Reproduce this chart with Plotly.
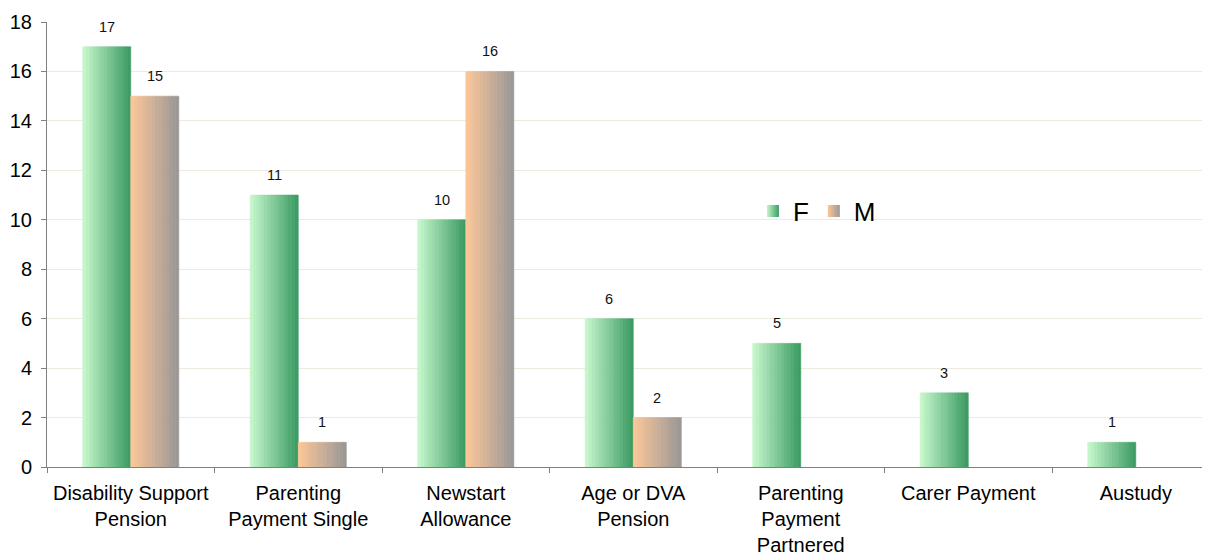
import plotly.graph_objects as go

categories = ["Disability Support<br>Pension", "Parenting<br>Payment Single", "Newstart<br>Allowance",
              "Age or DVA<br>Pension", "Parenting<br>Payment<br>Partnered", "Carer Payment", "Austudy"]
f_vals = [17, 11, 10, 6, 5, 3, 1]
m_vals = [15, 1, 16, 2, None, None, None]
y_ticks = [0, 2, 4, 6, 8, 10, 12, 14, 16, 18]

BAR_W = 0.287
N = 14
X_RANGE = [-0.5, 6.443]
FIG_W, FIG_H = 1202, 548
M_L, M_R, M_T, M_B = 39, 0, 14, 89
PLOT_W = FIG_W - M_L - M_R

def lerp(c1, c2, t):
    return "rgb(%d,%d,%d)" % tuple(round(a + (b - a) * t) for a, b in zip(c1, c2))

series = [
    ("F", f_vals, -BAR_W, (196, 246, 202), (62, 156, 100)),
    ("M", m_vals, 0.0, (250, 198, 152), (156, 152, 150)),
]

fig = go.Figure()
px_per_unit = PLOT_W / (X_RANGE[1] - X_RANGE[0])
for name, vals, base, c1, c2 in series:
    for i in range(N):
        col = lerp(c1, c2, i / (N - 1))
        fig.add_trace(go.Bar(
            x=categories, y=vals, width=BAR_W / N, offset=base + i * BAR_W / N,
            marker=dict(color=col, line=dict(color=col, width=0.6)),
            showlegend=False, hoverinfo="skip"))
    shift = (base + BAR_W / 2) * px_per_unit
    for cat, v in zip(categories, vals):
        if v:
            fig.add_annotation(x=cat, y=v, text=str(v), showarrow=False,
                               xshift=shift, yshift=10, yanchor="bottom",
                               font=dict(size=14.5, color="#111111", family="Liberation Sans, Arial"))

for name, vals, base, c1, c2 in series:
    fig.add_trace(go.Scatter(x=[None], y=[None], name=name, mode="markers",
                             marker=dict(symbol="square", size=16, color=lerp(c1, c2, 0.0),
                                         gradient=dict(type="horizontal", color=lerp(c1, c2, 1.0)),
                                         line=dict(width=0)),
                             hoverinfo="skip"))

fig.update_layout(
    width=FIG_W, height=FIG_H,
    margin=dict(l=M_L, r=M_R, t=M_T, b=M_B),
    barmode="overlay",
    plot_bgcolor="white", paper_bgcolor="white",
    font=dict(family="Liberation Sans, Arial", size=20, color="#000000"),
    legend=dict(orientation="h", x=0.607, y=0.575, xanchor="left", yanchor="middle",
                font=dict(size=26), bgcolor="rgba(0,0,0,0)", itemwidth=30, itemsizing="constant"),
    xaxis=dict(range=X_RANGE, showline=True, linecolor="#808080", linewidth=1,
               ticks="outside", tickson="boundaries", ticklen=5, tickcolor="#808080",
               tickfont=dict(size=20), showgrid=False, automargin=False, ticklabelstandoff=8),
    yaxis=dict(range=[0, 18], tickvals=y_ticks, showline=True, linecolor="#808080", linewidth=1,
               ticks="outside", ticklen=5, tickcolor="#808080", gridcolor="#ebebe0",
               tickfont=dict(size=20), zeroline=False, automargin=False, ticklabelstandoff=5),
)
fig.write_html("out.html")
